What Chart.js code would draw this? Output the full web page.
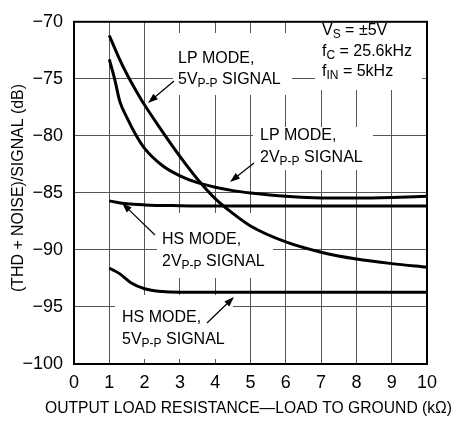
<!DOCTYPE html>
<html>
<head>
<meta charset="utf-8">
<script src="https://cdn.jsdelivr.net/npm/chart.js@4.4.1/dist/chart.umd.min.js"></script>
<style>
  html, body { margin: 0; padding: 0; background: #fff; }
</style>
</head>
<body>
<canvas id="thd" width="453" height="421"></canvas>
<script>
// values (x in kOhm, y in dB)
const lp5X = [1, 1.25, 1.5, 1.75, 2, 2.5, 3, 3.5, 4, 4.5, 5, 6, 7, 8, 9, 10];
const lp5Y = [-71.2, -73.0, -74.6, -76.0, -77.3, -79.6, -81.8, -83.8, -85.5, -86.8, -87.9, -89.3, -90.2, -90.8, -91.2, -91.5];

const lp2X = [1, 1.15, 1.3, 1.5, 1.75, 2, 2.5, 3, 3.5, 4, 4.5, 5, 6, 7, 8, 9, 10];
const lp2Y = [-73.3, -75.0, -77.0, -78.4, -79.9, -81.1, -82.6, -83.5, -84.1, -84.5, -84.8, -85.0, -85.3, -85.45, -85.45, -85.4, -85.3];

const hs2X = [1, 1.5, 2, 3, 4, 5, 6, 7, 8, 9, 10];
const hs2Y = [-85.7, -85.95, -86.05, -86.12, -86.15, -86.15, -86.15, -86.15, -86.15, -86.15, -86.15];

const hs5X = [1, 1.1, 1.3, 1.6, 2, 2.5, 3, 4, 5, 6, 7, 8, 9, 10];
const hs5Y = [-91.6, -91.75, -92.1, -92.85, -93.4, -93.65, -93.7, -93.7, -93.7, -93.7, -93.7, -93.7, -93.7, -93.7];

const xTitle = 'OUTPUT LOAD RESISTANCE\u2014LOAD TO GROUND (k\u03A9)';
const yTitle = '(THD + NOISE)/SIGNAL (dB)';

// label text: [text, isSubscript]
const condLines = [
  [['V'], ['S', 1], [' = \u00B15V']],
  [['f'], ['C', 1], [' = 25.6kHz']],
  [['f'], ['IN', 1], [' = 5kHz']]
];
const lp5Lines = [[['LP MODE,']], [['5V'], ['P-P', 1], [' SIGNAL']]];
const lp2Lines = [[['LP MODE,']], [['2V'], ['P-P', 1], [' SIGNAL']]];
const hs2Lines = [[['HS MODE,']], [['2V'], ['P-P', 1], [' SIGNAL']]];
const hs5Lines = [[['HS MODE,']], [['5V'], ['P-P', 1], [' SIGNAL']]];

const FONT = '"Liberation Sans", Arial, Helvetica, sans-serif';
const pts = (xs, ys) => xs.map((x, i) => ({ x: x, y: ys[i] }));

function drawRich(ctx, x, y, parts) {
  ctx.textBaseline = 'middle';
  ctx.textAlign = 'left';
  for (const p of parts) {
    if (p[1]) { ctx.font = '12px ' + FONT; ctx.fillText(p[0], x, y + 4); }
    else { ctx.font = '16px ' + FONT; ctx.fillText(p[0], x, y); }
    x += ctx.measureText(p[0]).width;
  }
}

function drawBlock(ctx, x, y, lines, gap) {
  lines.forEach((ln, i) => drawRich(ctx, x, y + i * gap, ln));
}

function arrow(ctx, x1, y1, x2, y2) {
  const a = Math.atan2(y2 - y1, x2 - x1), L = 10, W = 3.5;
  ctx.beginPath();
  ctx.moveTo(x1, y1);
  ctx.lineTo(x2 - Math.cos(a) * L * 0.8, y2 - Math.sin(a) * L * 0.8);
  ctx.lineWidth = 1.2;
  ctx.strokeStyle = '#000';
  ctx.stroke();
  ctx.beginPath();
  ctx.moveTo(x2, y2);
  ctx.lineTo(x2 - Math.cos(a) * L + Math.sin(a) * W, y2 - Math.sin(a) * L - Math.cos(a) * W);
  ctx.lineTo(x2 - Math.cos(a) * L - Math.sin(a) * W, y2 - Math.sin(a) * L + Math.cos(a) * W);
  ctx.closePath();
  ctx.fillStyle = '#000';
  ctx.fill();
}

const notes = {
  id: 'notes',
  beforeDatasetsDraw(chart) {
    const ctx = chart.ctx;
    ctx.save();
    ctx.fillStyle = '#fff';
    // white patches behind the labels, breaking the grid
    ctx.fillRect(173, 33, 119, 62);
    ctx.fillRect(315, 17, 107, 73);
    ctx.fillRect(253, 127, 120, 43);
    ctx.fillRect(157, 213, 116, 65);
    ctx.fillRect(115, 295, 118, 64);
    ctx.fillStyle = '#000';
    drawBlock(ctx, 322, 31, condLines, 20.5);
    drawBlock(ctx, 178, 58.5, lp5Lines, 21.5);
    drawBlock(ctx, 260, 136, lp2Lines, 21.5);
    drawBlock(ctx, 162, 240, hs2Lines, 21.5);
    drawBlock(ctx, 122, 318, hs5Lines, 21.5);
    ctx.restore();
  },
  afterDatasetsDraw(chart) {
    const ctx = chart.ctx, a = chart.chartArea;
    ctx.save();
    arrow(ctx, 174, 81, 148, 103);
    arrow(ctx, 254, 163, 230, 182);
    arrow(ctx, 155, 235, 122, 203);
    arrow(ctx, 207, 323, 234, 297);
    ctx.lineWidth = 2;
    ctx.strokeStyle = '#000';
    ctx.strokeRect(a.left, a.top, a.right - a.left, a.bottom - a.top);
    ctx.fillStyle = '#000';
    ctx.font = '17px ' + FONT;
    ctx.textBaseline = 'middle';
    ctx.textAlign = 'left';
    ctx.fillText(xTitle, 45, 408, 407);
    ctx.translate(19, 188);
    ctx.rotate(-Math.PI / 2);
    ctx.textAlign = 'center';
    ctx.font = '16px ' + FONT;
    ctx.fillText(yTitle, 0, 0, 208);
    ctx.restore();
  }
};

const curve = (data) => ({
  data: data,
  borderColor: '#000',
  borderWidth: 3,
  pointRadius: 0,
  fill: false,
  cubicInterpolationMode: 'monotone'
});

new Chart(document.getElementById('thd'), {
  type: 'line',
  data: {
    datasets: [
      curve(pts(lp5X, lp5Y)),
      curve(pts(lp2X, lp2Y)),
      curve(pts(hs2X, hs2Y)),
      curve(pts(hs5X, hs5Y))
    ]
  },
  options: {
    responsive: false,
    animation: false,
    layout: { padding: { left: 0, top: 12, right: 26, bottom: 0 } },
    plugins: { legend: { display: false }, tooltip: { enabled: false } },
    scales: {
      x: {
        type: 'linear', min: 0, max: 10,
        ticks: { stepSize: 1, color: '#000', font: { family: FONT, size: 18 }, padding: 8, maxRotation: 0 },
        grid: { color: '#555', lineWidth: 1, drawTicks: false },
        border: { color: '#000', width: 2 },
        afterFit(s) { s.height = 57; }
      },
      y: {
        min: -100, max: -70,
        ticks: {
          stepSize: 5, color: '#000', font: { family: FONT, size: 18 }, padding: 11,
          callback: (v) => String(v).replace('-', '\u2212')
        },
        grid: { color: '#555', lineWidth: 1, drawTicks: false },
        border: { color: '#000', width: 2 },
        afterFit(s) { s.width = 74; }
      }
    }
  },
  plugins: [notes]
});
</script>
</body>
</html>
